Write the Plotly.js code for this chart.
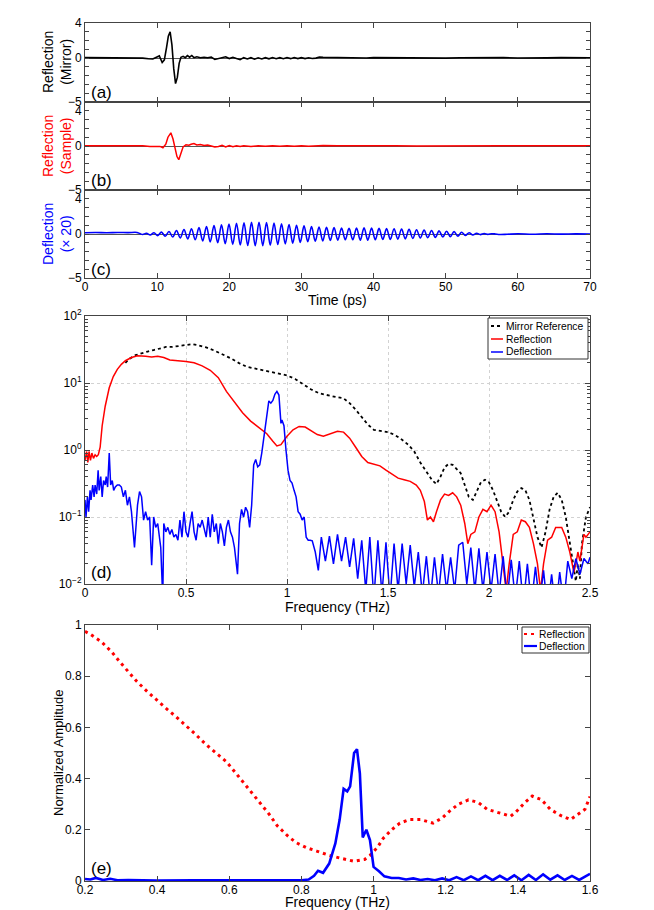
<!DOCTYPE html>
<html>
<head>
<meta charset="utf-8">
<script src="https://cdn.plot.ly/plotly-3.0.1.min.js"></script>
<style>html,body{margin:0;padding:0;background:#fff;}#chart{width:654px;height:910px;}</style>
</head>
<body>
<div id="chart"></div>
<script>
// ---------- Panel (a): Reflection (Mirror), time domain ----------
const mirrorTime = [0,1,2,3,4,5,6,7,8, 8.8,9.4,9.9,10.3,10.7, 11.0,11.3,11.55,11.8,12.05, 12.3,12.55,12.8,13.05,13.3,
  13.6,13.9,14.2,14.5,14.8, 15.1,15.5,16.0,16.5,17.0, 17.5,18.0,18.5,19.0,19.5, 20.0,20.5,21.0,21.5,22.0,
  22.5,23.0,23.5,24.0,24.5, 25.0,25.5,26.0,26.5,27.0, 27.5,28.0,28.5,29.0,29.5, 30.0,30.5,31.0,31.5,32.0,
  32.5,33.0,34,35,36, 37,38,39,40,42, 44,46,48,50,52, 54,56,58,60,62, 64,66,68,70];
const mirrorSignal = [0.05,0.04,0.03,0.1,0.05,0.08,0.04,0.06,0.0, -0.08,-0.1,0.1,0.25,-0.5, -0.2,1.2,2.5,3.0,1.5,
  -1.2,-2.9,-2.2,-0.6,0.1, 0.2,0.05,0.28,0.1,0.3, 0.05,0.15,0.05,0.1,0.05, 0.12,-0.15,-0.05,0.05,0.15,
  -0.05,0.1,-0.05,-0.18,0.05, -0.1,0.05,-0.12,0.03,-0.1, 0.05,-0.08,0.06,-0.07,0.05, -0.07,0.06,-0.06,0.07,-0.05,
  0.05,-0.06,0.04,-0.05,0.0, 0.12,0.1,0.08,0.05,0.07, 0.03,0.06,0.02,0.05,0.03, 0.06,0.02,0.05,0.0,0.04,
  0.06,0.03,0.05,0.02,0.06, 0.03,0.05,0.03,0.04];

// ---------- Panel (b): Reflection (Sample) ----------
const sampleTime = [0,2,4,6,8, 9,9.8,10.4,10.8,11.2, 11.5,11.9,12.2,12.5,12.75, 13.0,13.3,13.6,14.0,14.4,
  14.7,15.1,15.5,16.0,16.5, 17.0,17.5,18.0,18.5,19.0, 19.5,20.0,20.5,21.0,21.5, 22,23,24,25,26,
  27,28,29,30,31, 32,33,35,37,40, 43,46,50,54,58, 62,66,70];
const sampleSignal = [0.02,0.04,0.0,0.05,0.02, -0.05,-0.08,-0.05,-0.2,0.2, 1.0,1.5,0.8,-0.3,-1.2, -1.55,-0.9,-0.1,0.15,0.1,
  0.2,0.28,0.12,0.18,0.05, 0.1,0.0,-0.1,-0.05,0.08, -0.1,0.05,-0.08,0.03,-0.06, 0.04,-0.05,0.03,-0.04,0.03,
  -0.03,0.02,-0.03,0.02,-0.02, 0.02,0.06,0.03,0.05,0.02, 0.04,0.01,0.04,0.02,0.03, 0.04,0.02,0.03];

// ---------- Panel (c): Deflection (x20) ----------
const deflPreTime = [0,1.5,3,4.5,6,7.2,7.6];
const deflPreSignal = [0.15,0.17,0.14,0.17,0.16,0.18,0.05];
const deflOscTime = [8.00,8.52,9.04,9.56,10.08,10.60,11.12,11.64,12.16,12.68,
  13.20,13.72,14.24,14.76,15.28,15.80,16.32,16.84,17.36,17.88,
  18.40,18.92,19.44,19.96,20.48,21.00,21.52,22.04,22.56,23.08,
  23.60,24.12,24.64,25.16,25.68,26.20,26.72,27.24,27.76,28.28,
  28.80,29.32,29.84,30.36,30.88,31.40,31.92,32.44,32.96,33.48,
  34.00,34.52,35.04,35.56,36.08,36.60,37.12,37.64,38.16,38.68,
  39.20,39.72,40.24,40.76,41.28,41.80,42.32,42.84,43.36,43.88,
  44.40,44.92,45.44,45.96,46.48,47.00,47.52,48.04,48.56,49.08,
  49.60,50.12,50.64,51.16,51.68,52.20,52.72,53.24,53.76,54.28,
  54.80,55.32,55.84,56.36];
const deflOscSignal = [-0.05,0.08,-0.11,0.14,-0.18,0.21,-0.25,0.29,-0.34,0.39,
  -0.44,0.5,-0.55,0.6,-0.66,0.72,-0.78,0.84,-0.9,0.95,
  -1.0,1.05,-1.1,1.14,-1.18,1.22,-1.25,1.28,-1.3,1.32,
  -1.33,1.33,-1.32,1.3,-1.27,1.24,-1.2,1.16,-1.12,1.08,
  -1.04,1.0,-0.96,0.92,-0.88,0.85,-0.82,0.8,-0.78,0.76,
  -0.74,0.72,-0.7,0.68,-0.66,0.65,-0.66,0.68,-0.7,0.7,
  -0.7,0.68,-0.66,0.64,-0.62,0.62,-0.62,0.6,-0.58,0.56,
  -0.55,0.53,-0.5,0.48,-0.46,0.44,-0.42,0.4,-0.38,0.36,
  -0.34,0.32,-0.3,0.27,-0.24,0.2,-0.17,0.14,-0.11,0.09,
  -0.07,0.05,-0.04,0.03];
const deflPostTime = [56.9,57.5,58.5,60,62,64,66,68,70];
const deflPostSignal = [0.0,-0.05,-0.03,0.02,-0.02,0.02,-0.01,0.01,0.0];

// ---------- Panel (d): spectra ----------
const mirrorFreq = [0.2,0.22,0.25,0.28,0.31,0.34,0.37,0.4,0.43,0.46,
  0.5,0.53,0.56,0.6,0.64,0.68,0.72,0.76,0.8,0.84,
  0.88,0.92,0.96,1.0,1.04,1.08,1.12,1.16,1.2,1.24,
  1.28,1.31,1.34,1.37,1.4,1.43,1.46,1.5,1.53,1.56,
  1.6,1.63,1.66,1.69,1.72,1.74,1.76,1.78,1.8,1.82,
  1.84,1.86,1.88,1.9,1.92,1.94,1.96,1.98,2.0,2.02,
  2.04,2.06,2.08,2.1,2.12,2.14,2.16,2.18,2.2,2.22,
  2.24,2.26,2.28,2.3,2.32,2.34,2.36,2.38,2.4,2.42,
  2.43,2.44,2.45,2.46,2.47,2.48,2.5];
const mirrorSpec = [20,23,26,28,29.5,31,33,34.5,34.5,35.5,
  37.5,38,36.5,34,30.5,27,23.5,20,17.5,16.5,
  15.5,14.8,14,13,11.5,9.5,8.0,7.0,6.5,6.2,
  5.9,5.0,4.0,3.1,2.4,2.0,1.95,1.85,1.7,1.5,
  1.2,0.95,0.65,0.47,0.35,0.31,0.4,0.55,0.62,0.6,
  0.52,0.45,0.3,0.2,0.18,0.24,0.33,0.36,0.33,0.25,
  0.17,0.12,0.1,0.12,0.18,0.24,0.27,0.25,0.18,0.1,
  0.05,0.035,0.06,0.13,0.2,0.23,0.18,0.1,0.04,0.015,
  0.011,0.02,0.012,0.04,0.07,0.1,0.14];

const reflFreq = [0,0.008,0.014,0.02,0.027,0.034,0.042,0.05,0.058,0.066,
  0.075,0.085,0.1,0.12,0.14,0.16,0.18,0.2,0.23,0.26,
  0.3,0.33,0.36,0.39,0.42,0.46,0.5,0.54,0.58,0.62,
  0.66,0.7,0.74,0.78,0.82,0.86,0.9,0.93,0.95,0.97,
  1.0,1.03,1.06,1.09,1.12,1.15,1.18,1.22,1.25,1.28,
  1.31,1.34,1.37,1.4,1.43,1.46,1.49,1.52,1.55,1.58,
  1.61,1.64,1.66,1.68,1.695,1.71,1.725,1.74,1.76,1.78,
  1.8,1.82,1.84,1.86,1.88,1.895,1.91,1.93,1.95,1.97,
  1.99,2.01,2.03,2.05,2.07,2.085,2.1,2.12,2.14,2.16,
  2.18,2.2,2.22,2.24,2.255,2.27,2.29,2.31,2.33,2.36,
  2.38,2.4,2.42,2.43,2.44,2.45,2.46,2.47,2.48,2.5];
const reflSpec = [0.7,0.95,0.65,0.95,0.7,0.9,0.75,0.85,0.8,0.85,
  1.1,2.3,4.5,8.5,12.5,16,19,21.5,24,25.5,
  25,24.5,25,24,22,21.5,21,20,18,15.5,
  12,7.5,5.2,3.6,2.7,2.2,1.75,1.35,1.15,1.2,
  1.6,2.0,2.25,2.2,1.95,1.7,1.6,1.75,1.9,1.85,
  1.5,1.1,0.8,0.65,0.62,0.58,0.5,0.44,0.38,0.36,
  0.34,0.3,0.25,0.17,0.09,0.1,0.085,0.12,0.18,0.22,
  0.21,0.23,0.2,0.15,0.08,0.04,0.055,0.06,0.1,0.13,
  0.12,0.15,0.12,0.06,0.02,0.008,0.02,0.055,0.06,0.09,
  0.085,0.07,0.04,0.02,0.008,0.02,0.045,0.05,0.07,0.07,
  0.05,0.03,0.015,0.02,0.03,0.022,0.035,0.055,0.05,0.06];

const deflFreqLow = [0,0.005,0.012,0.018,0.025,0.03,0.038,0.045,0.05,0.058,
  0.065,0.07,0.078,0.085,0.092,0.1,0.105,0.112,0.12,0.127,
  0.135,0.142,0.15,0.16,0.17,0.18,0.19,0.2,0.21,0.22,
  0.23,0.245,0.26,0.27,0.28,0.29,0.3,0.31,0.32,0.33,
  0.34,0.35,0.36,0.37,0.375,0.385,0.39,0.4,0.41,0.42,
  0.43,0.44,0.45,0.46,0.47,0.48,0.49,0.5,0.51,0.52,
  0.53,0.54,0.55,0.56,0.57,0.58,0.59,0.6,0.61,0.62,
  0.63,0.64,0.65,0.66,0.67,0.68,0.69,0.7,0.71,0.72,
  0.73,0.74,0.755,0.765,0.775,0.785,0.795,0.805,0.815,0.825,
  0.835,0.845,0.855,0.865,0.875,0.885,0.9,0.91,0.92,0.93,
  0.94,0.95,0.96,0.965,0.97,0.975,0.985,0.995,1.005,1.015,
  1.025,1.035,1.045,1.055,1.065,1.075,1.085,1.095,1.105,1.115,
  1.125,1.14,1.155];
const deflSpecLow = [0.18,0.1,0.2,0.12,0.25,0.18,0.3,0.2,0.3,0.22,
  0.5,0.25,0.4,0.2,0.35,0.3,0.4,0.28,0.9,0.3,
  0.35,0.25,0.28,0.3,0.3,0.28,0.2,0.25,0.15,0.2,
  0.12,0.035,0.15,0.24,0.2,0.09,0.12,0.09,0.1,0.019,
  0.1,0.07,0.08,0.04,0.035,0.006,0.08,0.06,0.07,0.055,
  0.065,0.05,0.055,0.045,0.09,0.05,0.12,0.06,0.05,0.08,
  0.12,0.06,0.045,0.08,0.07,0.09,0.07,0.05,0.1,0.05,
  0.11,0.06,0.08,0.04,0.08,0.06,0.037,0.07,0.09,0.06,
  0.05,0.035,0.014,0.08,0.13,0.1,0.14,0.12,0.07,0.15,
  0.6,0.72,0.56,0.6,0.9,1.5,3.0,5.4,5.0,5.5,
  6.8,7.5,6.6,3.5,2.5,2.8,2.3,1.0,0.5,0.35,
  0.32,0.25,0.2,0.12,0.11,0.09,0.1,0.05,0.045,0.045,
  0.044,0.03,0.016];
const deflFreqHigh = [1.17,1.19,1.21,1.23,1.25,1.27,1.29,1.31,1.33,1.35,
  1.37,1.39,1.41,1.43,1.45,1.47,1.49,1.51,1.53,1.55,
  1.57,1.59,1.61,1.63,1.65,1.67,1.69,1.71,1.73,1.75,
  1.77,1.79,1.81,1.83,1.85,1.87,1.89,1.91,1.93,1.95,
  1.97,1.99,2.01,2.03,2.05,2.07,2.09,2.11,2.13,2.15,
  2.17,2.19,2.21,2.23,2.25,2.27,2.29,2.31,2.33,2.35,
  2.37,2.39,2.41,2.43,2.45,2.47,2.49,2.5];
const deflSpecHigh = [0.05,0.022,0.052,0.02,0.055,0.022,0.05,0.018,0.048,0.012,
  0.045,0.008,0.05,0.006,0.045,0.007,0.042,0.006,0.04,0.008,
  0.04,0.01,0.038,0.009,0.03,0.007,0.026,0.006,0.025,0.007,
  0.028,0.008,0.025,0.008,0.038,0.042,0.01,0.035,0.008,0.034,
  0.008,0.03,0.008,0.028,0.007,0.026,0.006,0.023,0.006,0.022,
  0.005,0.02,0.005,0.018,0.005,0.016,0.004,0.014,0.004,0.015,
  0.005,0.022,0.012,0.024,0.014,0.024,0.02,0.025];

// ---------- Panel (e): normalized amplitude ----------
const normReflFreq = [0.2,0.216,0.246,0.274,0.297,0.32,0.344,0.372,0.398,0.425,
  0.453,0.48,0.507,0.534,0.562,0.592,0.623,0.654,0.68,0.71,
  0.733,0.762,0.785,0.814,0.842,0.877,0.912,0.946,0.975,0.99,
  1.01,1.027,1.05,1.073,1.1,1.13,1.165,1.19,1.21,1.235,
  1.263,1.29,1.315,1.35,1.38,1.395,1.42,1.44,1.465,1.49,
  1.517,1.546,1.57,1.586,1.6];
const normReflAmp = [0.975,0.963,0.934,0.895,0.855,0.818,0.779,0.741,0.707,0.674,
  0.641,0.607,0.572,0.535,0.5,0.466,0.413,0.36,0.314,0.262,
  0.216,0.176,0.15,0.13,0.117,0.1,0.088,0.077,0.084,0.1,
  0.13,0.167,0.2,0.226,0.24,0.24,0.226,0.246,0.272,0.3,
  0.317,0.307,0.28,0.266,0.253,0.27,0.307,0.332,0.318,0.28,
  0.257,0.24,0.262,0.28,0.33];
const normDeflFreq = [0.2,0.215,0.23,0.25,0.27,0.29,0.32,0.4,0.5,0.6,
  0.7,0.8,0.82,0.835,0.846,0.86,0.877,0.894,0.906,0.917,
  0.927,0.935,0.946,0.954,0.962,0.97,0.98,0.99,1.0,1.015,
  1.03,1.05,1.07,1.09,1.11,1.13,1.15,1.17,1.19,1.21,
  1.23,1.25,1.27,1.29,1.31,1.33,1.35,1.37,1.39,1.41,
  1.43,1.45,1.47,1.49,1.51,1.53,1.55,1.57,1.59,1.6];
const normDeflAmp = [0.008,0.006,0.012,0.004,0.009,0.003,0.004,0.002,0.003,0.002,
  0.003,0.003,0.006,0.02,0.04,0.032,0.068,0.147,0.24,0.36,
  0.35,0.37,0.5,0.515,0.42,0.17,0.2,0.16,0.055,0.038,
  0.018,0.012,0.012,0.006,0.01,0.004,0.008,0.003,0.01,0.003,
  0.015,0.003,0.018,0.003,0.02,0.003,0.02,0.004,0.022,0.003,
  0.024,0.004,0.026,0.005,0.022,0.004,0.02,0.004,0.022,0.028];

// ---------- tick labels / legend labels ----------
const timeTicks = [0,10,20,30,40,50,60,70];
const ampTickVals = [-5,-4,-3,-2,-1,0,1,2,3,4,5];
const ampTickText = ['\u22125','','','','','0','','','','4',''];
const logTickVals = [0.01,0.1,1,10,100];
const logTickText = ['10<sup>\u22122</sup>','10<sup>\u22121</sup>','10<sup>0</sup>','10<sup>1</sup>','10<sup>2</sup>'];
const logMinorVals = [0.02,0.03,0.04,0.05,0.06,0.07,0.08,0.09,0.2,0.3,0.4,0.5,0.6,0.7,0.8,0.9,
  2,3,4,5,6,7,8,9,20,30,40,50,60,70,80,90];
const specLegendNames = ['Mirror Reference', 'Reflection', 'Deflection'];
const normLegendNames = ['Reflection', 'Deflection'];

// ---------- layout helpers ----------
const W = 654, H = 910;
const fx = p => p / W;
const fy = p => 1 - p / H;
const xDom = [fx(85), fx(590)];
const FONT = 'Liberation Sans, Arial, Helvetica, sans-serif';
const AX = '#444';

function baseAxis(extra) {
  return Object.assign({
    showline: true, linecolor: AX, linewidth: 1, mirror: 'ticks',
    ticks: 'inside', ticklen: 5, tickcolor: AX, tickwidth: 1,
    showgrid: false, zeroline: false, tickfont: {size: 12, color: '#000'}
  }, extra);
}

const specStyles = [
  {color: '#000', width: 1.8, dash: 'dot'},
  {color: '#ff0000', width: 1.5},
  {color: '#0000ff', width: 1.5}
];
const normStyles = [
  {color: '#ff0000', width: 3, dash: '3px,4px'},
  {color: '#0000ff', width: 2.6}
];

const traces = [
  {x: mirrorTime, y: mirrorSignal, xaxis: 'x', yaxis: 'y', mode: 'lines', line: {color: '#000', width: 1.6}, name: 'Reflection (Mirror)', showlegend: false},
  {x: sampleTime, y: sampleSignal, xaxis: 'x2', yaxis: 'y2', mode: 'lines', line: {color: '#ff0000', width: 1.5}, name: 'Reflection (Sample)', showlegend: false},
  {x: deflPreTime.concat(deflOscTime, deflPostTime), y: deflPreSignal.concat(deflOscSignal, deflPostSignal),
   xaxis: 'x3', yaxis: 'y3', mode: 'lines', line: {color: '#0000ff', width: 1.6, shape: 'spline', smoothing: 1}, name: 'Deflection (x20)', showlegend: false},
  {x: mirrorFreq, y: mirrorSpec, xaxis: 'x4', yaxis: 'y4', mode: 'lines', name: specLegendNames[0], line: specStyles[0], showlegend: false},
  {x: reflFreq, y: reflSpec, xaxis: 'x4', yaxis: 'y4', mode: 'lines', name: specLegendNames[1], line: specStyles[1], showlegend: false},
  {x: deflFreqLow.concat(deflFreqHigh), y: deflSpecLow.concat(deflSpecHigh), xaxis: 'x4', yaxis: 'y4', mode: 'lines', name: specLegendNames[2], line: specStyles[2], showlegend: false},
  {x: normReflFreq, y: normReflAmp, xaxis: 'x5', yaxis: 'y5', mode: 'lines', name: normLegendNames[0], line: normStyles[0], showlegend: false},
  {x: normDeflFreq, y: normDeflAmp, xaxis: 'x5', yaxis: 'y5', mode: 'lines', name: normLegendNames[1], line: normStyles[1], showlegend: false}
];

// legend boxes drawn as shapes + annotations (compact, MATLAB-like)
const shapes = [];
const annotations = [];
function addLegend(box, rowsY, sampleX, textX, names, styles) {
  shapes.push({type: 'rect', xref: 'paper', yref: 'paper', layer: 'above',
    x0: fx(box[0]), x1: fx(box[1]), y0: fy(box[3]), y1: fy(box[2]),
    line: {color: '#333', width: 1}, fillcolor: '#fff'});
  names.forEach((nm, i) => {
    const st = styles[i];
    shapes.push({type: 'line', xref: 'paper', yref: 'paper', layer: 'above',
      x0: fx(sampleX[0]), x1: fx(sampleX[1]), y0: fy(rowsY[i]), y1: fy(rowsY[i]),
      line: {color: st.color, width: Math.min(st.width, 2.2), dash: st.dash || 'solid'}});
    annotations.push({text: nm, xref: 'paper', yref: 'paper', x: fx(textX), y: fy(rowsY[i]),
      xanchor: 'left', yanchor: 'middle', showarrow: false, font: {size: 10.3, color: '#000'}});
  });
}
addLegend([488, 588, 318, 359], [326, 339, 352], [491, 503], 504, specLegendNames, specStyles);
addLegend([522, 589, 627, 653], [634, 646], [524, 537], 537, normLegendNames, normStyles);

// axis titles and panel labels
const textAnno = (text, x, y, opts) => Object.assign({text: text, xref: 'paper', yref: 'paper', x: fx(x), y: fy(y),
  xanchor: 'center', yanchor: 'middle', showarrow: false, font: {size: 14, color: '#000'}}, opts || {});
annotations.push(
  textAnno('Reflection<br>(Mirror)', 57, 62, {textangle: -90}),
  textAnno('Reflection<br>(Sample)', 57, 146, {textangle: -90, font: {size: 14, color: '#ff0000'}}),
  textAnno('Deflection<br>(\u00d7 20)', 57, 234, {textangle: -90, font: {size: 14, color: '#0000ff'}}),
  textAnno('Normalized Amplitude', 58, 753, {textangle: -90, font: {size: 13, color: '#000'}}),
  textAnno('Time (ps)', 337.5, 300),
  textAnno('Frequency (THz)', 337.5, 607),
  textAnno('Frequency (THz)', 337.5, 901.5),
  textAnno('(a)', 89, 93, {xanchor: 'left', font: {size: 17}}),
  textAnno('(b)', 89, 181, {xanchor: 'left', font: {size: 17}}),
  textAnno('(c)', 89, 269, {xanchor: 'left', font: {size: 17}}),
  textAnno('(d)', 89, 572, {xanchor: 'left', font: {size: 17}}),
  textAnno('(e)', 89, 868, {xanchor: 'left', font: {size: 17}})
);

const yTimeAxis = (dom, range) => baseAxis({domain: dom, range: range, tickmode: 'array',
  tickvals: ampTickVals, ticktext: ampTickText, ticklen: 4,
  zeroline: true, zerolinecolor: '#555', zerolinewidth: 1});

const layout = {
  width: W, height: H, margin: {l: 0, r: 0, t: 0, b: 0},
  paper_bgcolor: '#fff', plot_bgcolor: '#fff', showlegend: false,
  font: {family: FONT, color: '#000', size: 12},
  xaxis: baseAxis({domain: xDom, anchor: 'y', range: [0, 70], tickmode: 'array', tickvals: timeTicks, showticklabels: false}),
  yaxis: Object.assign(yTimeAxis([fy(102), fy(23)], [-5, 4]), {anchor: 'x'}),
  xaxis2: baseAxis({domain: xDom, anchor: 'y2', range: [0, 70], tickmode: 'array', tickvals: timeTicks, showticklabels: false}),
  yaxis2: Object.assign(yTimeAxis([fy(190), fy(102)], [-5, 5]), {anchor: 'x2'}),
  xaxis3: baseAxis({domain: xDom, anchor: 'y3', range: [0, 70], tickmode: 'array', tickvals: timeTicks, ticklabelstandoff: -2}),
  yaxis3: Object.assign(yTimeAxis([fy(278), fy(190)], [-5, 5]), {anchor: 'x3'}),
  xaxis4: baseAxis({domain: xDom, anchor: 'y4', range: [0, 2.5], tickmode: 'array', tickvals: [0, 0.5, 1, 1.5, 2, 2.5],
    ticktext: ['0', '0.5', '1', '1.5', '2', '2.5'], ticklabelstandoff: -2,
    showgrid: true, gridcolor: '#d2d2d2', griddash: 'dot', gridwidth: 1}),
  yaxis4: baseAxis({domain: [fy(584), fy(316)], anchor: 'x4', type: 'log', range: [-2, 2],
    tickmode: 'array', tickvals: logTickVals, ticktext: logTickText,
    showgrid: true, gridcolor: '#d2d2d2', griddash: 'dot', gridwidth: 1,
    minor: {tickmode: 'array', tickvals: logMinorVals, ticks: 'inside', ticklen: 3, tickcolor: AX, showgrid: false}}),
  xaxis5: baseAxis({domain: xDom, anchor: 'y5', range: [0.2, 1.6], tickmode: 'array', ticklabelstandoff: -2,
    tickvals: [0.2, 0.4, 0.6, 0.8, 1, 1.2, 1.4, 1.6], ticktext: ['0.2', '0.4', '0.6', '0.8', '1', '1.2', '1.4', '1.6']}),
  yaxis5: baseAxis({domain: [fy(881), fy(625)], anchor: 'x5', range: [0, 1], tickmode: 'array',
    tickvals: [0, 0.2, 0.4, 0.6, 0.8, 1], ticktext: ['0', '0.2', '0.4', '0.6', '0.8', '1']}),
  shapes: shapes,
  annotations: annotations
};

Plotly.newPlot('chart', traces, layout, {staticPlot: true, displayModeBar: false});
</script>
</body>
</html>
